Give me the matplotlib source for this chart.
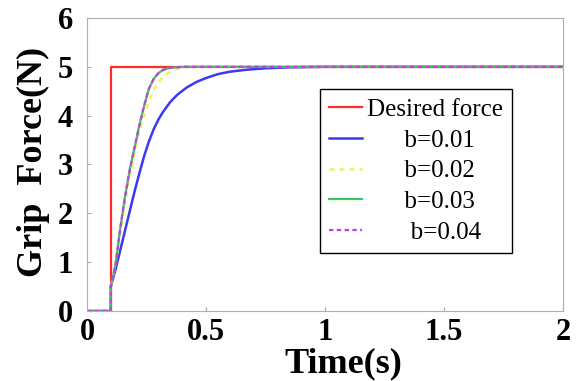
import numpy as np
import matplotlib.pyplot as plt

plt.rcParams['font.family'] = ['Liberation Serif', 'DejaVu Serif']

# values
t_desired = [0, 0.1, 0.1, 2.0]
f_desired = [0, 0, 5, 5]

t_b1 = [0, 0.1, 0.1, 0.12, 0.14, 0.16, 0.18, 0.20, 0.22, 0.24, 0.26, 0.28, 0.30, 0.32,
        0.35, 0.38, 0.42, 0.46, 0.50, 0.55, 0.60, 0.67, 0.75, 0.85, 1.0, 2.0]
f_b1 = [0, 0, 0.5, 0.85, 1.25, 1.65, 2.05, 2.45, 2.82, 3.17, 3.47, 3.72, 3.92, 4.08,
        4.28, 4.43, 4.58, 4.69, 4.77, 4.85, 4.9, 4.94, 4.97, 4.99, 5.0, 5.0]

t_b2 = [0, 0.1, 0.1, 0.12, 0.14, 0.16, 0.18, 0.20, 0.22, 0.24, 0.26, 0.28, 0.30,
        0.32, 0.35, 0.38, 0.42, 0.5, 2.0]
f_b2 = [0, 0, 0.5, 0.95, 1.6, 2.2, 2.75, 3.25, 3.67, 4.0, 4.3, 4.52, 4.68,
        4.8, 4.9, 4.96, 5.0, 5.0, 5.0]

t_b3 = [0, 0.1, 0.1, 0.12, 0.14, 0.16, 0.18, 0.20, 0.22, 0.24, 0.26, 0.28, 0.30,
        0.32, 0.35, 0.40, 0.5, 2.0]
f_b3 = [0, 0, 0.5, 0.95, 1.7, 2.35, 2.9, 3.35, 3.8, 4.2, 4.55, 4.75, 4.87,
        4.94, 4.98, 5.0, 5.0, 5.0]

t_b4 = [0, 0.1, 0.1, 0.12, 0.14, 0.16, 0.18, 0.20, 0.22, 0.24, 0.26, 0.28, 0.30,
        0.32, 0.35, 0.40, 0.5, 2.0]
f_b4 = [0, 0, 0.5, 0.95, 1.7, 2.35, 2.9, 3.35, 3.8, 4.2, 4.55, 4.75, 4.87,
        4.94, 4.98, 5.0, 5.0, 5.0]

fig = plt.figure(figsize=(5.78, 3.81), dpi=100)
ax = fig.add_axes([0.1505, 0.1837, 0.8235, 0.7691])

ax.plot(t_desired, f_desired, color='#ff2a2a', lw=1.6, label='Desired force')
ax.plot(t_b1, f_b1, color='#3a3af0', lw=1.8, label='      b=0.01')
ax.plot(t_b2, f_b2, color='#f0f060', lw=1.8, ls=(0, (2, 2)), label='      b=0.02')
ax.plot(t_b3, f_b3, color='#40c060', lw=1.6, label='      b=0.03')
ax.plot(t_b4, f_b4, color='#c040e0', lw=1.6, ls=(0, (2, 1.5)), label='       b=0.04')

ax.set_xlim(0, 2)
ax.set_ylim(0, 6)
ax.set_xticks([0, 0.5, 1, 1.5, 2])
ax.set_xticklabels(['0', '0.5', '1', '1.5', '2'])
ax.set_yticks([0, 1, 2, 3, 4, 5, 6])
ax.tick_params(direction='in', length=3, color='#aaaaaa', labelsize=22)
ax.tick_params(axis='x', pad=5)
ax.tick_params(axis='y', pad=10)
for lab in ax.get_xticklabels() + ax.get_yticklabels():
    lab.set_fontweight('bold')
for sp in ax.spines.values():
    sp.set_color('#b0b0b0')

ax.set_xlabel('Time(s)', fontsize=26, fontweight='bold')
ax.set_ylabel('Grip  Force(N)', fontsize=26, fontweight='bold')
ax.xaxis.set_label_coords(0.538, -0.125)
ax.yaxis.set_label_coords(-0.078, 0.51)

leg = ax.legend(loc='upper left', bbox_to_anchor=(0.489, 0.758), fontsize=18,
                frameon=True, fancybox=False, edgecolor='black', framealpha=1,
                handlelength=1.3, handletextpad=0.2, labelspacing=0.33,
                borderpad=0.38, borderaxespad=0)
leg.get_frame().set_linewidth(1.0)

fig.savefig('out.png', dpi=100)
